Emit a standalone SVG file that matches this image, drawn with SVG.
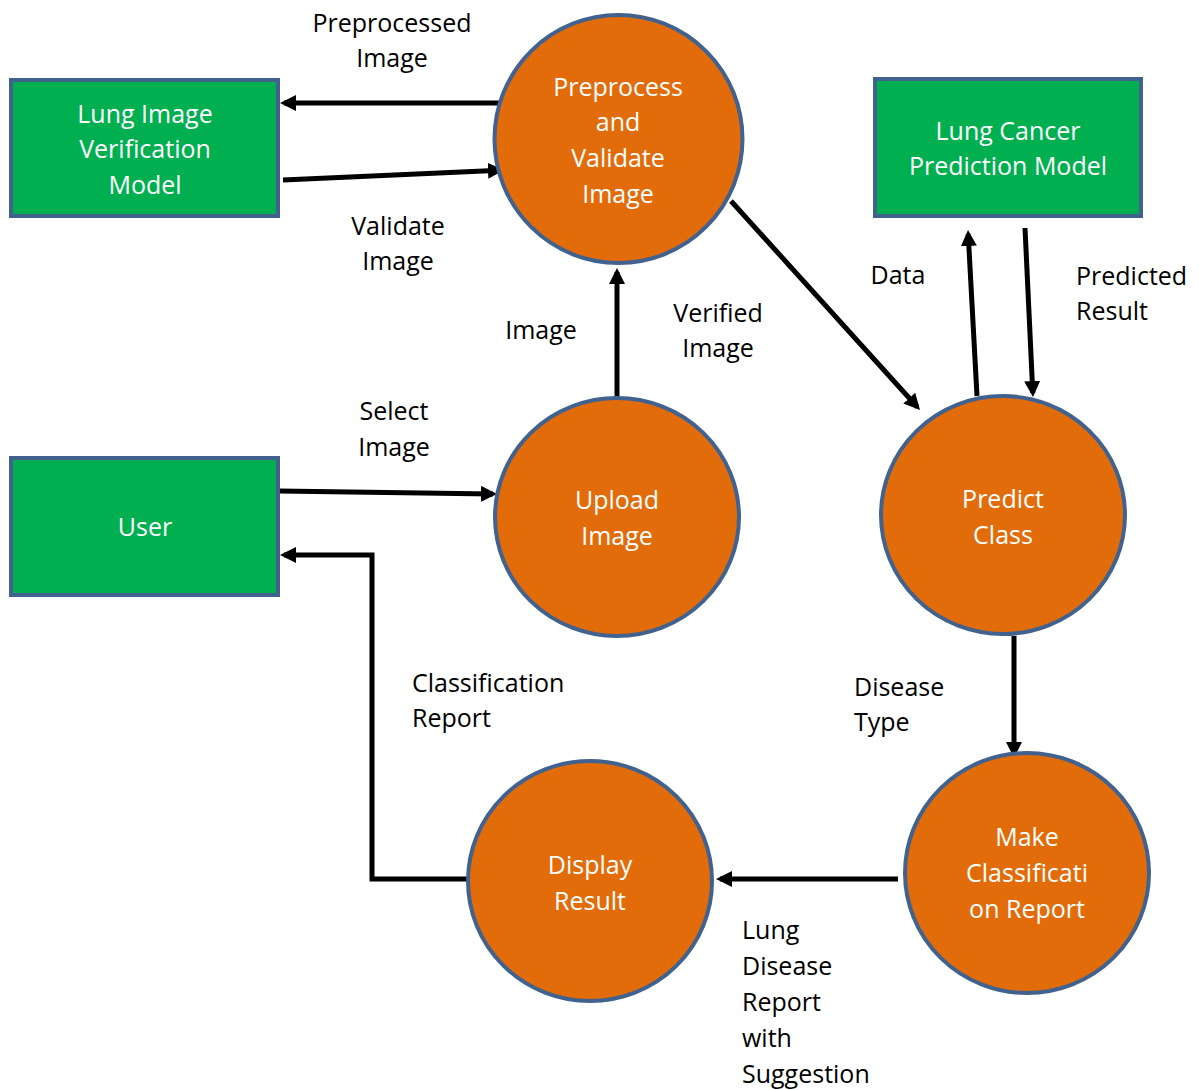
<svg xmlns="http://www.w3.org/2000/svg" width="1199" height="1090" viewBox="0 0 1199 1090">
<defs>
<style>
.box{fill:#00B050;stroke:#41628F;stroke-width:4}
.proc{fill:#E36C0A;stroke:#41628F;stroke-width:4}
.nt{font-family:"Open Sans","Liberation Sans",sans-serif;font-size:25px;fill:#FFFFFF;text-anchor:middle}
.lb{font-family:"Open Sans","Liberation Sans",sans-serif;font-size:25px;fill:#000000}
.c{text-anchor:middle}
.ar{fill:none;stroke:#000000;stroke-width:5;marker-end:url(#ah)}
</style>
<marker id="ah" markerUnits="userSpaceOnUse" markerWidth="18" markerHeight="18" refX="12" refY="8" orient="auto">
<path d="M0,0 L16,8 L0,16 z" fill="#000000"/>
</marker>
</defs>
<rect width="1199" height="1090" fill="#FFFFFF"/>
<g id="connectors">
<line class="ar" x1="504" y1="103" x2="284" y2="103"/>
<line class="ar" x1="283" y1="180" x2="500" y2="170.2"/>
<line class="ar" x1="731" y1="201" x2="917.3" y2="407"/>
<line class="ar" x1="617" y1="398" x2="617" y2="272"/>
<line class="ar" x1="279" y1="491" x2="493" y2="494"/>
<polyline class="ar" points="467,879 372,879 372,555 284,555"/>
<line class="ar" x1="977" y1="396" x2="968.2" y2="234"/>
<line class="ar" x1="1025" y1="228" x2="1032.8" y2="393"/>
<line class="ar" x1="1014" y1="636" x2="1014" y2="754"/>
<line class="ar" x1="898" y1="879" x2="720" y2="879"/>
</g>
<g id="labels" class="lb">
<text x="392" y="32" class="c">Preprocessed</text>
<text x="392" y="67" class="c">Image</text>
<text x="398" y="235" class="c">Validate</text>
<text x="398" y="270" class="c">Image</text>
<text x="541" y="339" class="c">Image</text>
<text x="718" y="322" class="c">Verified</text>
<text x="718" y="357" class="c">Image</text>
<text x="394" y="420" class="c">Select</text>
<text x="394" y="456" class="c">Image</text>
<text x="898" y="284" class="c">Data</text>
<text x="1076" y="285">Predicted</text>
<text x="1076" y="320">Result</text>
<text x="412" y="692">Classification</text>
<text x="412" y="727">Report</text>
<text x="854" y="696">Disease</text>
<text x="854" y="731">Type</text>
<text x="742" y="939">Lung</text>
<text x="742" y="975">Disease</text>
<text x="742" y="1011">Report</text>
<text x="742" y="1047">with</text>
<text x="742" y="1083">Suggestion</text>
</g>
<g id="verification-model">
<rect class="box" x="11" y="80" width="267" height="136"/>
<text class="nt" x="145" y="123">Lung Image</text>
<text class="nt" x="145" y="158">Verification</text>
<text class="nt" x="145" y="194">Model</text>
</g>
<g id="prediction-model">
<rect class="box" x="875" y="79" width="266" height="137"/>
<text class="nt" x="1008" y="140">Lung Cancer</text>
<text class="nt" x="1008" y="175">Prediction Model</text>
</g>
<g id="user">
<rect class="box" x="11" y="458" width="267" height="137"/>
<text class="nt" x="145" y="536">User</text>
</g>
<g id="preprocess">
<ellipse class="proc" cx="618.5" cy="139" rx="124" ry="124"/>
<text class="nt" x="618" y="96">Preprocess</text>
<text class="nt" x="618" y="131">and</text>
<text class="nt" x="618" y="167">Validate</text>
<text class="nt" x="618" y="203">Image</text>
</g>
<g id="upload">
<ellipse class="proc" cx="617" cy="517" rx="122" ry="119"/>
<text class="nt" x="617" y="509">Upload</text>
<text class="nt" x="617" y="545">Image</text>
</g>
<g id="predict">
<ellipse class="proc" cx="1003" cy="515" rx="122" ry="119"/>
<text class="nt" x="1003" y="508">Predict</text>
<text class="nt" x="1003" y="544">Class</text>
</g>
<g id="make-report">
<ellipse class="proc" cx="1027" cy="873" rx="122" ry="120"/>
<text class="nt" x="1027" y="846">Make</text>
<text class="nt" x="1027" y="882">Classificati</text>
<text class="nt" x="1027" y="918">on Report</text>
</g>
<g id="display">
<ellipse class="proc" cx="590" cy="881" rx="122" ry="120"/>
<text class="nt" x="590" y="874">Display</text>
<text class="nt" x="590" y="910">Result</text>
</g>
</svg>
